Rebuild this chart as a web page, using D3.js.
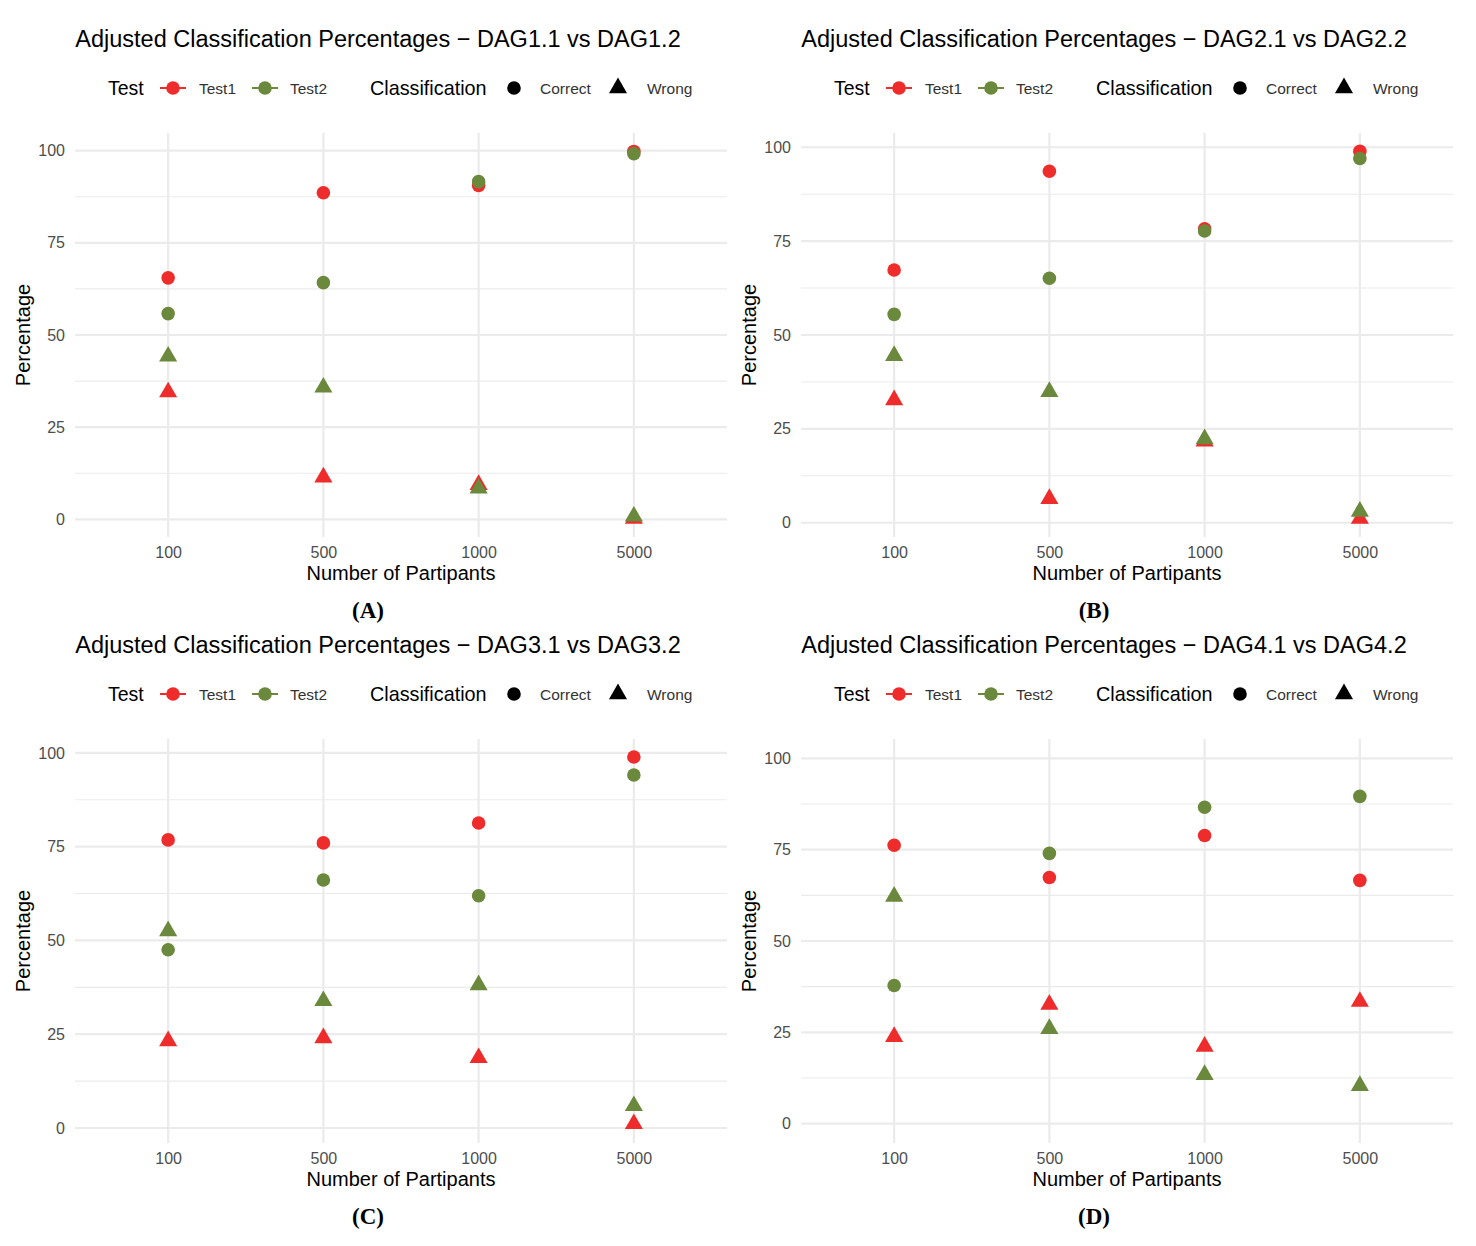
<!DOCTYPE html>
<html>
<head>
<meta charset="utf-8">
<script src="https://cdn.jsdelivr.net/npm/d3@7"></script>
<style>
  body { margin: 0; background: #fff; }
  svg text { font-family: "Liberation Sans", Arial, sans-serif; }
  svg text.tag { font-family: "Liberation Serif", "Times New Roman", serif; }
</style>
</head>
<body>
<svg id="chart" width="1476" height="1246"></svg>
<script>
// ---- data ----
var participants = ["100", "500", "1000", "5000"];
var tests = ["Test1", "Test2"];
var classes = ["Correct", "Wrong"];
var yTicks = [0, 25, 50, 75, 100];
var yMinor = [12.5, 37.5, 62.5, 87.5];

var panelTitles = [
  "Adjusted Classification Percentages \u2212 DAG1.1 vs DAG1.2",
  "Adjusted Classification Percentages \u2212 DAG2.1 vs DAG2.2",
  "Adjusted Classification Percentages \u2212 DAG3.1 vs DAG3.2",
  "Adjusted Classification Percentages \u2212 DAG4.1 vs DAG4.2"
];
var panelTags = ["(A)", "(B)", "(C)", "(D)"];

// y range shown in each panel (data range plus expansion)
var yDomains = [[-4.8, 104.8], [-3.8, 103.8], [-4.0, 103.7], [-5.3, 105.3]];

// percentages per panel, in participants order
var test1Correct = [
  [65.5, 88.6, 90.6, 99.8],
  [67.3, 93.6, 78.3, 98.9],
  [76.8, 76.0, 81.3, 98.9],
  [76.2, 67.4, 78.9, 66.6]
];
var test1Wrong = [
  [34.5, 11.4, 9.4, 0.2],
  [32.7, 6.4, 21.7, 1.1],
  [23.2, 24.0, 18.7, 1.1],
  [23.8, 32.6, 21.1, 33.4]
];
var test2Correct = [
  [55.8, 64.2, 91.6, 99.2],
  [55.5, 65.1, 77.7, 97.0],
  [47.5, 66.1, 61.9, 94.1],
  [37.8, 74.0, 86.6, 89.6]
];
var test2Wrong = [
  [44.2, 35.8, 8.4, 0.8],
  [44.5, 34.9, 22.3, 3.0],
  [52.5, 33.9, 38.1, 5.9],
  [62.2, 26.0, 13.4, 10.4]
];

var testColor = { Test1: "#EE2C2C", Test2: "#6B893C" };
var gridColor = "#EBEBEB";
var circleR = 6.8;
var triSize = 142;

var svg = d3.select("#chart");

// build long rows for one panel
function panelRows(p) {
  var rows = [];
  var sets = [
    ["Test1", "Correct", test1Correct[p]],
    ["Test1", "Wrong", test1Wrong[p]],
    ["Test2", "Correct", test2Correct[p]],
    ["Test2", "Wrong", test2Wrong[p]]
  ];
  sets.forEach(function(s) {
    s[2].forEach(function(v, i) {
      rows.push({ test: s[0], cls: s[1], n: participants[i], value: v });
    });
  });
  return rows;
}

function drawShape(sel, cls, color) {
  if (cls === "Correct") {
    sel.append("circle").attr("r", circleR).attr("fill", color);
  } else {
    sel.append("path")
      .attr("d", d3.symbol().type(d3.symbolTriangle).size(triSize)())
      .attr("fill", color);
  }
}

function drawPanel(p) {
  var ox = (p % 2) * 726;
  var oy = Math.floor(p / 2) * 606;
  var g = svg.append("g").attr("transform", "translate(" + ox + "," + oy + ")");

  var x0 = 75, x1 = 727, y0 = 133, y1 = 537;

  var x = d3.scalePoint().domain(participants).range([x0, x1]).padding(0.6);
  var y = d3.scaleLinear().domain(yDomains[p]).range([y1, y0]);

  // grid
  g.append("g").selectAll("line").data(yMinor).enter().append("line")
    .attr("x1", x0).attr("x2", x1)
    .attr("y1", function(d) { return y(d); }).attr("y2", function(d) { return y(d); })
    .attr("stroke", gridColor).attr("stroke-width", 1.1);
  g.append("g").selectAll("line").data(yTicks).enter().append("line")
    .attr("x1", x0).attr("x2", x1)
    .attr("y1", function(d) { return y(d); }).attr("y2", function(d) { return y(d); })
    .attr("stroke", gridColor).attr("stroke-width", 2.2);
  g.append("g").selectAll("line").data(participants).enter().append("line")
    .attr("x1", function(d) { return x(d); }).attr("x2", function(d) { return x(d); })
    .attr("y1", y0).attr("y2", y1)
    .attr("stroke", gridColor).attr("stroke-width", 2.2);

  // axes (text only, theme_minimal style)
  var yAxis = d3.axisLeft(y).tickValues(yTicks).tickSize(0).tickPadding(0);
  var ya = g.append("g").attr("transform", "translate(65,0)").call(yAxis);
  ya.select(".domain").remove();
  ya.selectAll("text").attr("font-size", 16).attr("fill", "#4D4D4D")
    .attr("font-family", "Liberation Sans, Arial, sans-serif");

  var xAxis = d3.axisBottom(x).tickSize(0).tickPadding(0);
  var xa = g.append("g").attr("transform", "translate(0,547)").call(xAxis);
  xa.select(".domain").remove();
  xa.selectAll("text").attr("font-size", 16).attr("fill", "#4D4D4D")
    .attr("font-family", "Liberation Sans, Arial, sans-serif");

  // axis titles
  g.append("text").attr("x", (x0 + x1) / 2).attr("y", 580)
    .attr("text-anchor", "middle").attr("font-size", 20).attr("fill", "#000")
    .text("Number of Partipants");
  g.append("text").attr("transform", "translate(30," + ((y0 + y1) / 2) + ") rotate(-90)")
    .attr("text-anchor", "middle").attr("font-size", 20).attr("fill", "#000")
    .text("Percentage");

  // title
  g.append("text").attr("x", 378).attr("y", 47)
    .attr("text-anchor", "middle").attr("font-size", 23.5).attr("fill", "#000")
    .text(panelTitles[p]);

  // points: Test1 first, Test2 on top
  var pts = g.append("g").selectAll("g.pt").data(panelRows(p)).enter().append("g")
    .attr("class", "pt")
    .attr("transform", function(d) { return "translate(" + x(d.n) + "," + y(d.value) + ")"; });
  pts.each(function(d) { drawShape(d3.select(this), d.cls, testColor[d.test]); });

  // legend
  var lg = g.append("g");
  lg.append("text").attr("x", 108).attr("y", 95).attr("font-size", 19.5).text("Test");
  var testKeys = [{ t: "Test1", kx: 173, tx: 199 }, { t: "Test2", kx: 265, tx: 290 }];
  testKeys.forEach(function(k) {
    lg.append("line").attr("x1", k.kx - 13).attr("x2", k.kx + 13)
      .attr("y1", 88).attr("y2", 88)
      .attr("stroke", testColor[k.t]).attr("stroke-width", 2);
    lg.append("circle").attr("cx", k.kx).attr("cy", 88).attr("r", circleR)
      .attr("fill", testColor[k.t]);
    lg.append("text").attr("x", k.tx).attr("y", 94).attr("font-size", 15.5)
      .attr("fill", "#333").text(k.t);
  });
  lg.append("text").attr("x", 370).attr("y", 95).attr("font-size", 19.8).text("Classification");
  var clsKeys = [{ c: "Correct", kx: 514, tx: 540 }, { c: "Wrong", kx: 618, tx: 647 }];
  clsKeys.forEach(function(k) {
    var kg = lg.append("g").attr("transform", "translate(" + k.kx + ",88)");
    drawShape(kg, k.c, "#000");
    lg.append("text").attr("x", k.tx).attr("y", 94).attr("font-size", 15.5)
      .attr("fill", "#333").text(k.c);
  });

  // panel tag
  g.append("text").attr("class", "tag").attr("x", 368).attr("y", 618)
    .attr("text-anchor", "middle").attr("font-size", 23)
    .attr("font-weight", "bold").attr("fill", "#000")
    .text(panelTags[p]);
}

for (var p = 0; p < 4; p++) drawPanel(p);
</script>
</body>
</html>
